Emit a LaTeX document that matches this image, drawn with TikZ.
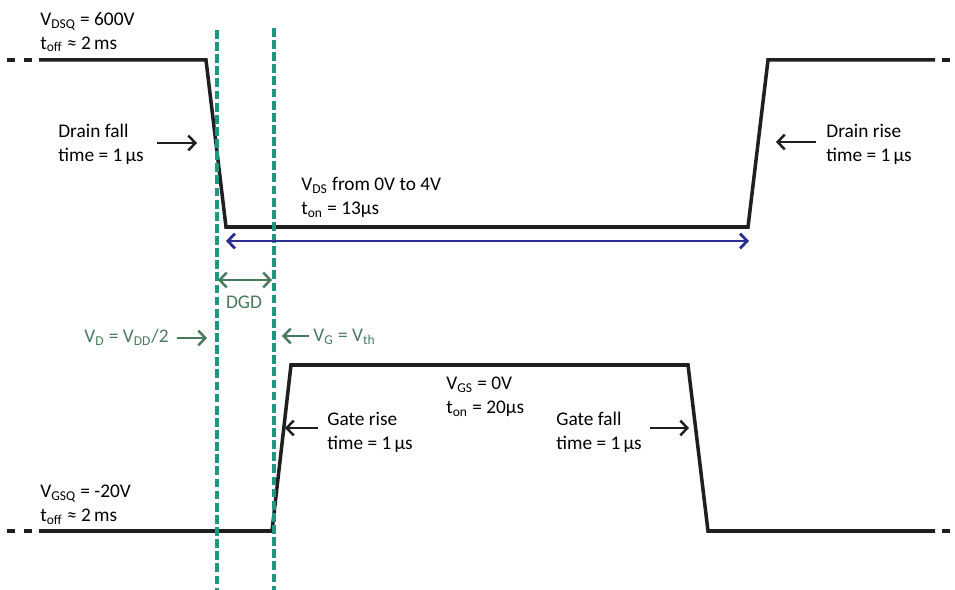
\documentclass[tikz,border=0pt]{standalone}
\usepackage{fontspec}
\setmainfont{Carlito}
\usetikzlibrary{arrows.meta}

\definecolor{gridteal}{RGB}{30,150,130}
\definecolor{dgdgreen}{RGB}{72,122,92}
\definecolor{ontimeblue}{RGB}{45,45,150}

\tikzset{
  wave/.style={line width=2pt, black!88},
  marker/.style={gridteal, line width=2.3pt, dash pattern=on 5pt off 1.9pt},
  note/.style={anchor=north west, inner sep=0pt, align=left, font=\fontsize{11}{13.5}\selectfont},
  barb/.tip={Straight Barb[length=4pt,width=8.5pt]},
  pointer/.style={line width=1.4pt, black!88, -barb},
  greenptr/.style={pointer, dgdgreen},
}

\begin{document}
\begin{tikzpicture}[x=0.02cm, y=-0.02cm]
    \useasboundingbox (0,0) rectangle (955,590);

    % Drain voltage waveform
    \coordinate (dA) at (39,60);
    \coordinate (dB) at (206,60);
    \coordinate (dC) at (226,227);
    \coordinate (dD) at (748,227);
    \coordinate (dE) at (768,60);
    \coordinate (dF) at (935,60);
    \draw[wave] (7,60) -- (15,60) (24,60) -- (32,60) (942,60) -- (950,60);
    \draw[wave, line join=miter] (dA) -- (dB) -- (dC) -- (dD) -- (dE) -- (dF);

    % Gate voltage waveform
    \coordinate (gA) at (39,531);
    \coordinate (gB) at (272,531);
    \coordinate (gC) at (291,365);
    \coordinate (gD) at (688,365);
    \coordinate (gE) at (708,531);
    \coordinate (gF) at (935,531);
    \draw[wave] (7,531) -- (15,531) (24,531) -- (32,531) (942,531) -- (950,531);
    \draw[wave, line join=miter] (gA) -- (gB) -- (gC) -- (gD) -- (gE) -- (gF);

    % Marker lines
    \draw[marker] (217,30) -- (217,590);
    \draw[marker] (274,28) -- (274,590);

    % Labels
    \node[note] (dsq) at (40,12) {V\textsubscript{DSQ} = 600V\\t\textsubscript{off} ≈ 2\,ms};
    \node[note] (dfall) at (58,124) {Drain fall\\time = 1\,µs};
    \node[note] (drise) at (826,124) {Drain rise\\time = 1\,µs};
    \node[note] (vds) at (301,177) {V\textsubscript{DS} from 0V to 4V\\t\textsubscript{on} = 13µs};
    \node[note] (vgs) at (446,377) {V\textsubscript{GS} = 0V\\t\textsubscript{on} = 20µs};
    \node[note] (grise) at (327,412) {Gate rise\\time = 1\,µs};
    \node[note] (gfall) at (556,412) {Gate fall\\time = 1\,µs};
    \node[note] (gsq) at (40,485) {V\textsubscript{GSQ} = -20V\\t\textsubscript{off} ≈ 2\,ms};
    \node[note, text=dgdgreen] (vdhalf) at (84,329) {V\textsubscript{D} = V\textsubscript{DD}/2};
    \node[note, text=dgdgreen] (vgth) at (313,329) {V\textsubscript{G} = V\textsubscript{th}};
    \node[note, text=dgdgreen, anchor=north] (dgd) at (244,296) {DGD};

    % Pointer ends
    \coordinate (dfT) at (157,143);  \coordinate (dfH) at (197,143);
    \coordinate (drT) at (816,142);  \coordinate (drH) at (776,142);
    \coordinate (grT) at (318,428);  \coordinate (grH) at (285,428);
    \coordinate (gfT) at (650,428);  \coordinate (gfH) at (689,428);
    \coordinate (vdT) at (177,338);  \coordinate (vdH) at (207,338);
    \coordinate (vgT) at (309,336);  \coordinate (vgH) at (282,336);
    \coordinate (dgL) at (218,280);  \coordinate (dgR) at (272,280);
    \coordinate (onL) at (226,241);  \coordinate (onR) at (749,241);

    \draw[pointer] (dfT) -- (dfH);
    \draw[pointer] (drT) -- (drH);
    \draw[pointer] (grT) -- (grH);
    \draw[pointer] (gfT) -- (gfH);
    \draw[greenptr] (vdT) -- (vdH);
    \draw[greenptr] (vgT) -- (vgH);
    \draw[greenptr, barb-barb] (dgL) -- (dgR);
    \draw[pointer, ontimeblue, line width=1.6pt, barb-barb] (onL) -- (onR);
\end{tikzpicture}
\end{document}
